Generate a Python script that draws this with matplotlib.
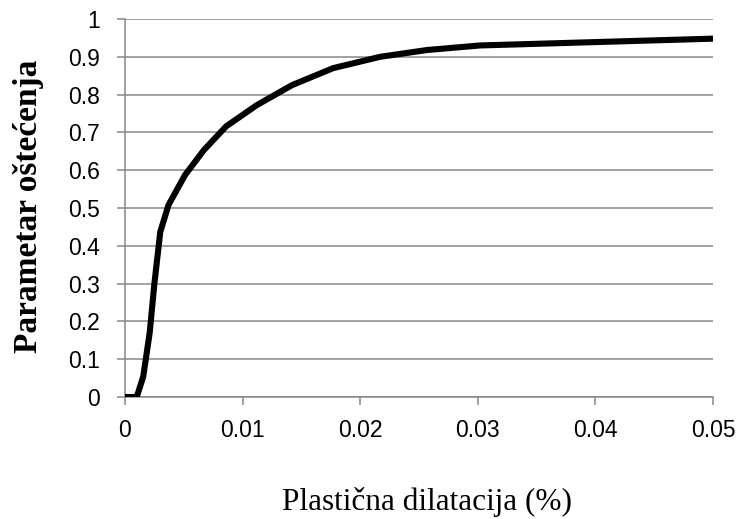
import matplotlib.pyplot as plt

# values
strain = [0, 0.001, 0.00155, 0.0021, 0.0025, 0.003, 0.0037, 0.0051, 0.0067,
          0.0086, 0.0112, 0.0142, 0.0177, 0.0217, 0.0257, 0.0302, 0.05]
damage = [0, 0, 0.054, 0.17, 0.30, 0.437, 0.508, 0.587, 0.653,
          0.716, 0.772, 0.825, 0.87, 0.90, 0.918, 0.93, 0.948]
x_ticks = [0, 0.01, 0.02, 0.03, 0.04, 0.05]
x_tick_labels = ['0', '0.01', '0.02', '0.03', '0.04', '0.05']
y_ticks = [0, 0.1, 0.2, 0.3, 0.4, 0.5, 0.6, 0.7, 0.8, 0.9, 1.0]
y_tick_labels = ['0', '0.1', '0.2', '0.3', '0.4', '0.5', '0.6', '0.7', '0.8', '0.9', '1']

grid_col = '#888888'

fig = plt.figure(figsize=(7.37, 5.19), dpi=100)
ax = fig.add_axes([0.1696, 0.235, 0.7978, 0.7284])

ax.plot(strain, damage, color='black', lw=4.4, solid_joinstyle='round', zorder=3)

ax.set_xlim(0, 0.05)
ax.set_ylim(0, 1)
ax.set_xticks(x_ticks)
ax.set_xticklabels(x_tick_labels)
ax.set_yticks(y_ticks)
ax.set_yticklabels(y_tick_labels)

ax.yaxis.grid(True, color=grid_col, lw=1.1)
ax.set_axisbelow(True)
for side in ['top', 'right']:
    ax.spines[side].set_visible(False)
for side in ['left', 'bottom']:
    ax.spines[side].set_color(grid_col)
    ax.spines[side].set_linewidth(1.1)

ax.tick_params(axis='both', colors=grid_col, length=6, width=1.1, direction='out')
for lab in ax.get_xticklabels() + ax.get_yticklabels():
    lab.set_color('black')
    lab.set_fontfamily('Liberation Sans')
    lab.set_fontsize(16.5)
ax.tick_params(axis='x', pad=9.5)
ax.tick_params(axis='y', pad=12)

# axis titles placed as in the reference
fig.text(0.5787, 0.0173, 'Plastična dilatacija (%)', family='Liberation Serif',
         fontsize=22.5, ha='center', va='baseline')
fig.text(0.039, 0.602, 'Parametar oštećenja', family='Liberation Serif',
         fontsize=24, fontweight='bold', rotation=90, ha='center', va='center')

fig.savefig('out.png', dpi=100)
